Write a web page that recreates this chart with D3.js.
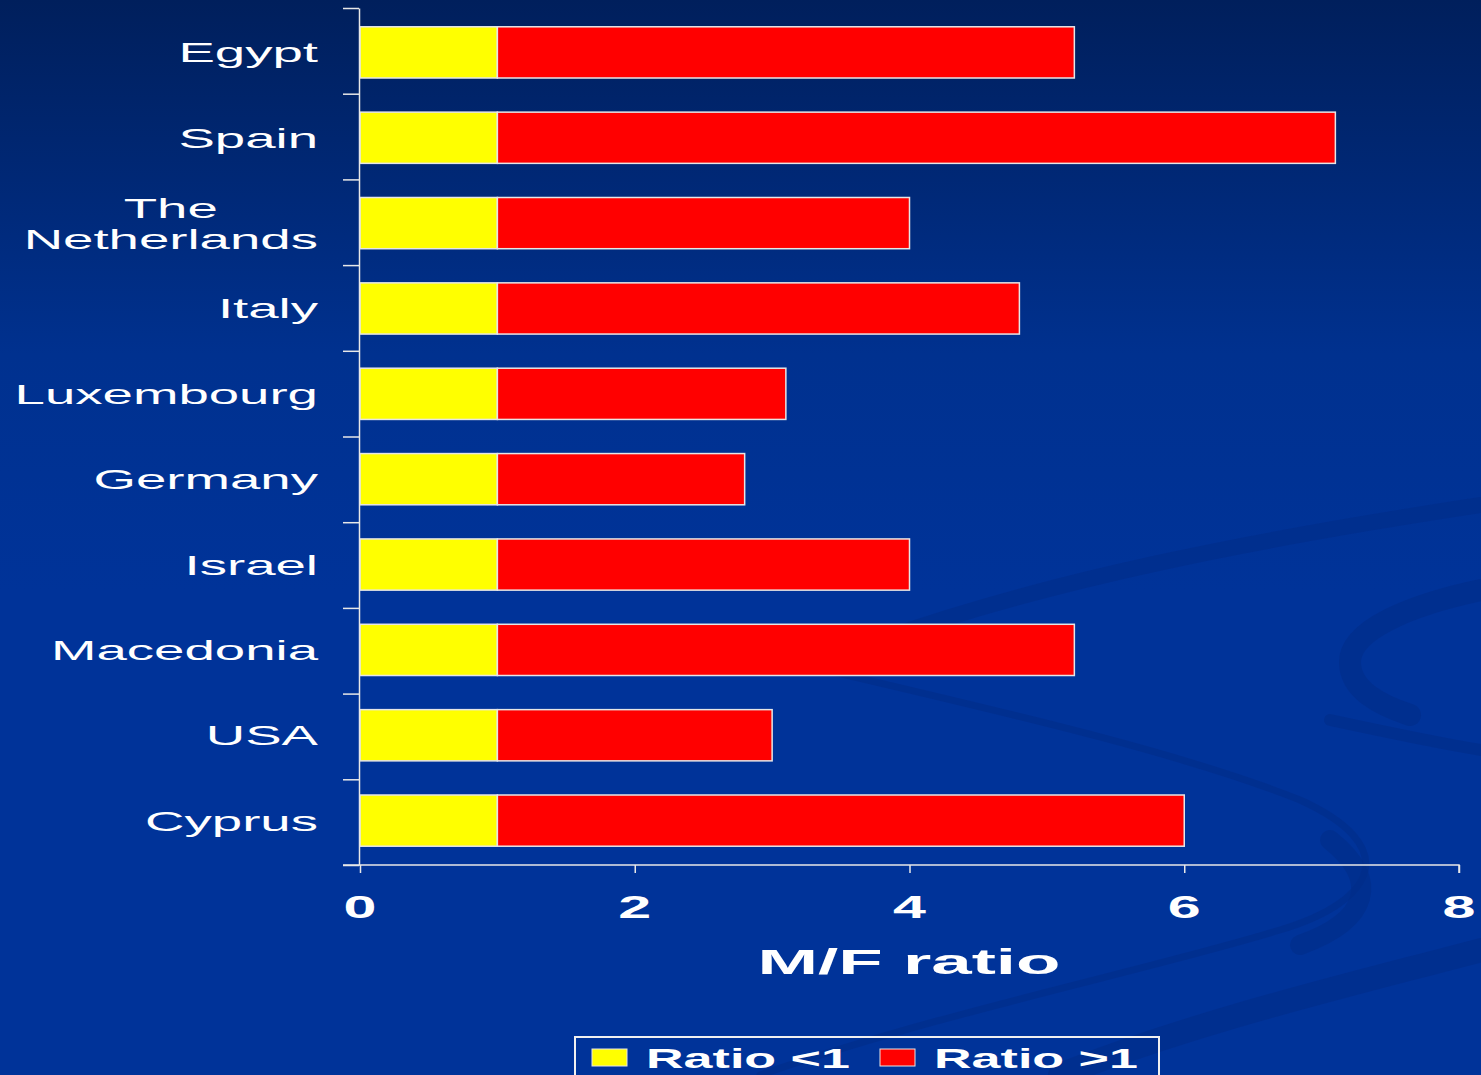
<!DOCTYPE html>
<html><head><meta charset="utf-8">
<script src="https://cdn.jsdelivr.net/npm/d3@7"></script>
<style>body{margin:0;background:#003399;overflow:hidden}svg{display:block}</style>
</head><body>
<svg id="c" width="1481" height="1075"></svg>
<script>
const categories = ["Egypt","Spain","The\nNetherlands","Italy","Luxembourg","Germany","Israel","Macedonia","USA","Cyprus"];
const ratioBelow = [1,1,1,1,1,1,1,1,1,1];           // "Ratio <1" segment
const ratioAbove = [4.2,6.1,3.0,3.8,2.1,1.8,3.0,4.2,2.0,5.0]; // "Ratio >1" segment
const xTicks = [0,2,4,6,8];
const seriesNames = ["Ratio <1","Ratio >1"];
const seriesColors = ["#ffff00","#ff0000"];

const svg = d3.select("#c");
const W = 1481, H = 1075;
const font = "'Liberation Sans', Arial, sans-serif";

// background
const defs = svg.append("defs");
const g0 = defs.append("linearGradient").attr("id","bg").attr("x1",0).attr("y1",0).attr("x2",0).attr("y2",1);
g0.append("stop").attr("offset","0%").attr("stop-color","#001f5c");
g0.append("stop").attr("offset","33%").attr("stop-color","#00318f");
g0.append("stop").attr("offset","55%").attr("stop-color","#003399");
g0.append("stop").attr("offset","100%").attr("stop-color","#003399");
svg.append("rect").attr("width",W).attr("height",H).attr("fill","url(#bg)");

// decorative swooshes
const deco = svg.append("g").attr("fill","none").attr("stroke","#002d88").attr("stroke-opacity",0.6).attr("stroke-linecap","round");
deco.append("path").attr("d","M880,640 C1050,580 1250,540 1481,505").attr("stroke-width",16);
deco.append("path").attr("d","M1481,590 C1410,605 1350,630 1350,662 C1350,690 1380,705 1410,715").attr("stroke-width",22);
deco.append("path").attr("d","M700,640 C900,690 1150,740 1300,800 C1400,845 1380,900 1280,930 C1150,970 950,1010 760,1075").attr("stroke-width",7);
deco.append("path").attr("d","M1330,840 C1380,880 1370,920 1300,945").attr("stroke-width",20);
deco.append("path").attr("d","M1060,1075 C1200,1020 1350,985 1481,950").attr("stroke-width",24);
deco.append("path").attr("d","M1330,720 C1400,735 1450,745 1481,750").attr("stroke-width",12);

// scales
const x = d3.scaleLinear().domain([0,8]).range([360,1459]);
const y = d3.scaleBand().domain(categories).range([8,865]).paddingInner(0.4).paddingOuter(0.22);
const yIdx = d3.scaleLinear().domain([0,categories.length]).range([8,865]);

// bars
const stackData = categories.map((c,i)=>({cat:c, a:ratioBelow[i], b:ratioAbove[i]}));
const stack = d3.stack().keys(["a","b"])(stackData);
svg.append("g").selectAll("g").data(stack).join("g")
  .attr("fill",(d,i)=>seriesColors[i])
  .selectAll("rect").data(d=>d).join("rect")
  .attr("x",d=>x(d[0])).attr("width",d=>x(d[1])-x(d[0]))
  .attr("y",d=>y(d.data.cat)).attr("height",y.bandwidth())
  .attr("stroke","#e6e6e6").attr("stroke-width",1.5);

// y axis (ticks between categories)
const ya = svg.append("g").attr("transform","translate(359,0)")
  .call(d3.axisLeft(yIdx).tickValues(d3.range(categories.length+1)).tickSize(16).tickSizeOuter(0).tickFormat(""));
ya.selectAll("path,line").attr("stroke","#e8e8e8").attr("stroke-width",1.5);

// x axis
const xa = svg.append("g").attr("transform","translate(0,865)")
  .call(d3.axisBottom(x).tickValues(xTicks).tickSize(8).tickSizeOuter(8).tickFormat(""));
xa.selectAll("path,line").attr("stroke","#e8e8e8").attr("stroke-width",1.5);
xa.select("path.domain").attr("d","M343,0H"+x(8)+"V8");

// x tick labels (stretched)
svg.append("g").selectAll("text").data(xTicks).join("text")
  .attr("transform",d=>`translate(${x(d)},918) scale(1.85,1)`)
  .attr("text-anchor","middle").attr("fill","#fff")
  .attr("font-family",font).attr("font-weight","bold").attr("font-size",32)
  .text(d=>d);

// axis title
svg.append("text").attr("transform","translate(909,974) scale(2.02,1)")
  .attr("text-anchor","middle").attr("fill","#fff")
  .attr("font-family",font).attr("font-weight","bold").attr("font-size",36)
  .text("M/F ratio");

// y labels
const labX = 318, sx = 1.95;
categories.forEach(c=>{
  const lines = c.split("\n");
  const cy = y(c)+y.bandwidth()/2;
  const g = svg.append("g").attr("transform",`translate(${labX},${cy})`);
  if(lines.length===1){
    g.append("text").attr("transform",`translate(0,10) scale(${sx},1)`)
      .attr("text-anchor","end").attr("fill","#fff")
      .attr("font-family",font).attr("font-size",28).text(c);
  } else {
    const tmp = g.append("text").attr("font-family",font).attr("font-size",28);
    let maxW = 0;
    lines.forEach(l=>{tmp.text(l); maxW=Math.max(maxW,tmp.node().getComputedTextLength());});
    tmp.remove();
    const cx = -maxW*sx/2;
    lines.forEach((l,k)=>{
      g.append("text").attr("transform",`translate(${cx},${10-15.5+31*k}) scale(${sx},1)`)
        .attr("text-anchor","middle").attr("fill","#fff")
        .attr("font-family",font).attr("font-size",28).text(l);
    });
  }
});

// legend
const lg = svg.append("g");
lg.append("rect").attr("x",575).attr("y",1037).attr("width",584).attr("height",60)
  .attr("fill","none").attr("stroke","#f0f0f0").attr("stroke-width",2);
const legX = [592,880];
seriesNames.forEach((n,i)=>{
  lg.append("rect").attr("x",legX[i]).attr("y",1049).attr("width",35).attr("height",17)
    .attr("fill",seriesColors[i]).attr("stroke","#e6e6e6").attr("stroke-width",1);
  lg.append("text").attr("transform",`translate(${legX[i]+54},1068) scale(1.86,1)`)
    .attr("fill","#fff").attr("font-family",font).attr("font-weight","bold").attr("font-size",28)
    .text(n);
});
</script>
</body></html>
